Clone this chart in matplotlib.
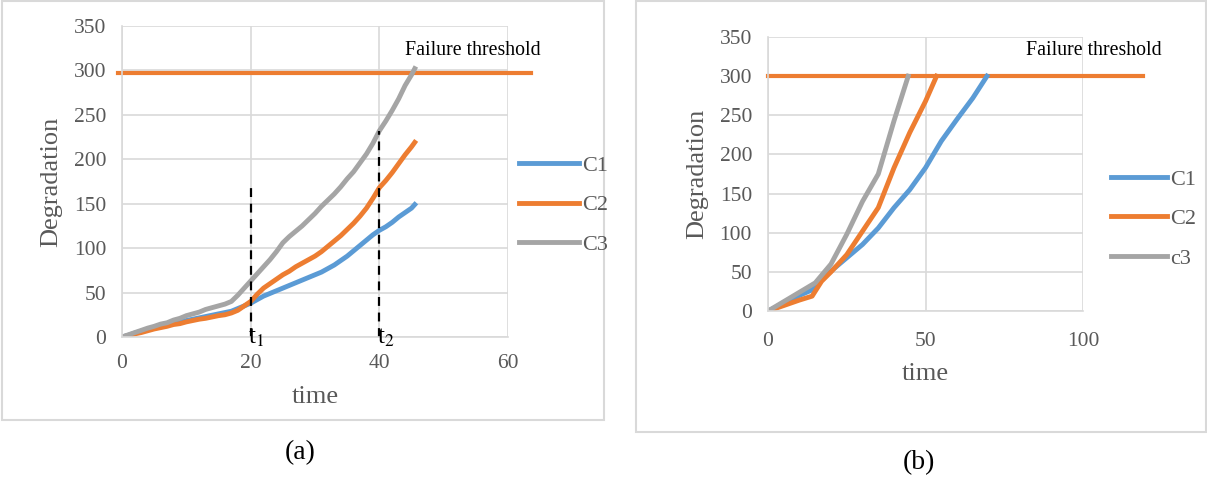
import matplotlib

matplotlib.use("Agg")

import matplotlib.pyplot as plt
from matplotlib.patches import Rectangle

plt.rcParams["font.family"] = ["Liberation Serif", "DejaVu Serif"]
plt.rcParams["mathtext.fontset"] = "stix"

BLUE = "#5B9BD5"
ORANGE = "#ED7D31"
GRAY = "#A5A5A5"
TEXT = "#595959"
GRID = "#D9D9D9"

# panel (a) data
time_a = [0, 1, 2, 3, 4, 5, 6, 7, 8, 9, 10, 11, 12, 13, 14, 15, 16, 17, 18, 19, 20,
          21, 22, 23, 24, 25, 26, 27, 28, 29, 30, 31, 32, 33, 34, 35, 36, 37, 38, 39, 40,
          41, 42, 43, 44, 45, 45.5]
c1_a = [0, 2, 4.5, 6.5, 8.5, 10.5, 12, 14, 15.5, 17, 18.5, 20, 21.5, 23, 24.5, 26, 27.5, 29, 32, 35, 38,
        42, 46, 49, 52, 55, 58, 61, 64, 67, 70, 73, 77, 81, 86, 91, 97, 103, 109, 115, 120,
        124, 129, 135, 140, 145, 149]
c2_a = [0, 1.5, 3.5, 5, 7, 9, 10.5, 12, 14, 15, 17, 18.5, 20, 21, 22.5, 24, 25, 27, 30, 35, 40,
        48, 55, 60, 65, 70, 74, 79, 83, 87, 91, 96, 102, 108, 114, 121, 128, 136, 145, 156, 168,
        176, 185, 195, 205, 214, 219]
c3_a = [0, 2.5, 5, 7.5, 10, 12, 14.5, 16, 19, 21, 24, 26, 28, 31, 33, 35, 37, 40, 47, 55, 63,
        71, 79, 87, 96, 106, 113, 119, 125, 132, 139, 147, 154, 161, 169, 178, 186, 196, 206, 218, 232,
        243, 255, 268, 283, 295, 302]
threshold_a = 297
marks_t = [20, 40]
marks_top = [170, 232]

# panel (b) data
time_b1 = [0, 5, 10, 14, 17, 20, 25, 30, 35, 40, 45, 50, 55, 60, 65, 69.5]
c1_b = [0, 10, 20, 27, 40, 51, 68, 85, 106, 132, 155, 183, 217, 245, 272, 300]
time_b2 = [0, 5, 10, 14, 17, 20, 25, 30, 35, 40, 45, 50, 53.5]
c2_b = [0, 7, 14, 19, 38, 50, 72, 102, 132, 183, 228, 268, 300]
time_b3 = [0, 5, 10, 15, 20, 25, 30, 35, 40, 44.5]
c3_b = [0, 12, 24, 36, 60, 98, 140, 175, 243, 300]
threshold_b = 300

labels_a = ["C1", "C2", "C3"]
labels_b = ["C1", "C2", "c3"]

fig = plt.figure(figsize=(12.07, 4.79), dpi=100)

# outer frames
fig.patches.append(Rectangle((0.002, 0.123), 0.498, 0.875, transform=fig.transFigure,
                             fill=False, edgecolor=GRID, linewidth=1.5))
fig.patches.append(Rectangle((0.527, 0.098), 0.472, 0.900, transform=fig.transFigure,
                             fill=False, edgecolor=GRID, linewidth=1.5))


def style_axes(ax, xmax, xstep, xpad):
    ax.set_ylim(0, 350)
    ax.set_xlim(0, xmax)
    ax.set_yticks(range(0, 351, 50))
    ax.set_xticks(range(0, xmax + 1, xstep))
    ax.grid(True, color=GRID, linewidth=1.2)
    ax.set_axisbelow(True)
    for side in ["top", "right"]:
        ax.spines[side].set_visible(False)
    for side in ["left", "bottom"]:
        ax.spines[side].set_color(GRID)
        ax.spines[side].set_linewidth(1.2)
    ax.tick_params(length=0, labelsize=15.5, colors=TEXT)
    ax.tick_params(axis="y", pad=11.5)
    ax.tick_params(axis="x", pad=xpad)
    ax.set_xlabel("time", fontsize=19, color=TEXT, labelpad=9)
    ax.set_ylabel("Degradation", fontsize=19, color=TEXT, labelpad=8)


# (a)
ax1 = fig.add_axes([0.1011, 0.2965, 0.3198, 0.6493])
style_axes(ax1, 60, 20, 12.5)
ax1.plot([-0.6, 63.5], [threshold_a, threshold_a], color=ORANGE, lw=3, clip_on=False)
l1, = ax1.plot(time_a, c1_a, color=BLUE, lw=3.5)
l2, = ax1.plot(time_a, c2_a, color=ORANGE, lw=3.5)
l3, = ax1.plot(time_a, c3_a, color=GRAY, lw=3.5)
for t, top, sub in zip(marks_t, marks_top, ["1", "2"]):
    ax1.plot([t, t], [0, top], color="black", lw=1.6, ls=(0, (4, 3)))
    ax1.text(t - 0.4, -1, r"t$_%s$" % sub, fontsize=18, ha="left", va="center")
ax1.text(44.0, 322, "Failure threshold", fontsize=14.3, ha="left", va="center")
fig.legend([l1, l2, l3], labels_a, loc="center left", bbox_to_anchor=(0.421, 0.572),
           frameon=False, fontsize=16, handlelength=2.7, handletextpad=0.15,
           labelspacing=0.85, labelcolor=TEXT, borderpad=0)
fig.text(0.249, 0.055, "(a)", fontsize=20, ha="center", va="center")

# (b)
ax2 = fig.add_axes([0.6363, 0.3507, 0.2610, 0.5720])
style_axes(ax2, 100, 50, 15)
ax2.plot([0, 119], [threshold_b, threshold_b], color=ORANGE, lw=3, clip_on=False)
m1, = ax2.plot(time_b1, c1_b, color=BLUE, lw=3.5)
m2, = ax2.plot(time_b2, c2_b, color=ORANGE, lw=3.5)
m3, = ax2.plot(time_b3, c3_b, color=GRAY, lw=3.5)
ax2.text(82, 333, "Failure threshold", fontsize=14.3, ha="left", va="center")
fig.legend([m1, m2, m3], labels_b, loc="center left", bbox_to_anchor=(0.9115, 0.543),
           frameon=False, fontsize=16, handlelength=2.5, handletextpad=0.15,
           labelspacing=0.85, labelcolor=TEXT, borderpad=0)
fig.text(0.761, 0.035, "(b)", fontsize=20, ha="center", va="center")

fig.savefig("out.png", dpi=100)
